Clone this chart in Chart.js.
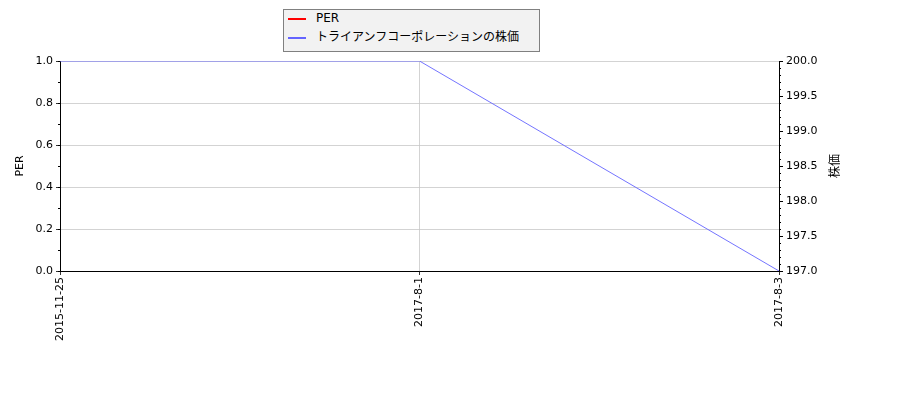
<!DOCTYPE html>
<html lang="ja">
<head>
  <meta charset="UTF-8">
  <title>トライアンフコーポレーションの株価</title>
  <script src="https://cdn.jsdelivr.net/npm/chart.js"></script>
  <style>
    body { margin: 0; background: #fff; }
    .wrap { position: relative; width: 900px; height: 400px; }
    #legend {
      position: absolute; left: 283px; top: 9px; width: 255px;
      background: #f2f2f2; border: 1px solid #808080;
      font: 12px "DejaVu Sans", "Noto Sans CJK JP", sans-serif; color: #000;
      padding: 0 0 3px 0;
    }
    #legend div { height: 19px; line-height: 17px; padding-left: 4px; white-space: nowrap; }
    #legend span.sw { display: inline-block; width: 18px; height: 2px; vertical-align: middle; margin-right: 10px; }
  </style>
</head>
<body>
  <div class="wrap">
    <canvas id="chart" width="900" height="400"></canvas>
    <div id="legend"></div>
  </div>
  <script>
    // data
    const dates = ['2015-11-25', '2017-8-1', '2017-8-3'];
    const perValues = [null, null, null];      // PER line has no points
    const priceValues = [200, 200, 197];
    const perTicks = [0, 0.2, 0.4, 0.6, 0.8, 1.0];
    const priceTicks = [197, 197.5, 198, 198.5, 199, 199.5, 200];

    const FONT = '"DejaVu Sans", "Noto Sans CJK JP", sans-serif';
    const perColor = '#ff0000';
    const priceColor = '#6464ff';

    // minor ticks + right axis title (rotated the matplotlib way)
    const extras = {
      id: 'extras',
      afterDraw(chart) {
        const ctx = chart.ctx;
        const area = chart.chartArea;
        ctx.save();
        ctx.strokeStyle = '#000';
        ctx.lineWidth = 1;
        const yl = chart.scales.y, yr = chart.scales.y2;
        for (let i = 0; i <= 10; i++) {
          const p = Math.round(yl.getPixelForValue(i / 10)) + 0.5;
          ctx.beginPath(); ctx.moveTo(area.left - 2, p); ctx.lineTo(area.left, p); ctx.stroke();
        }
        for (let i = 0; i <= 30; i++) {
          const p = Math.round(yr.getPixelForValue(197 + i / 10)) + 0.5;
          ctx.beginPath(); ctx.moveTo(area.right, p); ctx.lineTo(area.right + 2, p); ctx.stroke();
        }
        ctx.translate(836, (area.top + area.bottom) / 2);
        ctx.rotate(-Math.PI / 2);
        ctx.fillStyle = '#000';
        ctx.font = '12px ' + FONT;
        ctx.textAlign = 'center';
        ctx.textBaseline = 'middle';
        ctx.fillText('株価', 0, 0);
        ctx.restore();
      }
    };

    const chart = new Chart(document.getElementById('chart'), {
      type: 'line',
      data: {
        labels: dates,
        datasets: [
          { label: 'PER', data: perValues, borderColor: perColor, backgroundColor: perColor,
            borderWidth: 1.5, pointRadius: 0, yAxisID: 'y' },
          { label: 'トライアンフコーポレーションの株価', data: priceValues, borderColor: priceColor,
            backgroundColor: priceColor, borderWidth: 0.9, pointRadius: 0, yAxisID: 'y2' }
        ]
      },
      options: {
        responsive: false,
        animation: false,
        layout: { padding: { top: 61, left: 0, right: 0, bottom: 0 } },
        plugins: { legend: { display: false }, tooltip: { enabled: false } },
        scales: {
          x: {
            offset: false,
            grid: { color: '#c8c8c8', lineWidth: 0.8, tickColor: '#000', tickLength: 4 },
            border: { color: '#000', width: 1 },
            ticks: { color: '#000', font: { family: FONT, size: 11 }, minRotation: 90, maxRotation: 90, padding: 2 },
            afterFit(s) { s.height = 129; }
          },
          y: {
            position: 'left',
            min: 0, max: 1,
            afterBuildTicks(s) { s.ticks = perTicks.map(v => ({ value: v })); },
            grid: { color: '#c8c8c8', lineWidth: 0.8, tickColor: '#000', tickLength: 4 },
            border: { color: '#000', width: 1 },
            ticks: { color: '#000', font: { family: FONT, size: 11 }, padding: 3, callback: v => v.toFixed(1) },
            title: { display: true, text: 'PER', color: '#000', font: { family: FONT, size: 11 }, padding: { top: 14, bottom: 0 } },
            afterFit(s) { s.width = 60; }
          },
          y2: {
            position: 'right',
            min: 197, max: 200,
            afterBuildTicks(s) { s.ticks = priceTicks.map(v => ({ value: v })); },
            grid: { drawOnChartArea: false, tickColor: '#000', tickLength: 4 },
            border: { color: '#000', width: 1 },
            ticks: { color: '#000', font: { family: FONT, size: 11 }, padding: 3, callback: v => v.toFixed(1) },
            afterFit(s) { s.width = 121; }
          }
        }
      },
      plugins: [extras]
    });

    // legend box like the original, built from the datasets
    const legend = document.getElementById('legend');
    chart.data.datasets.forEach(ds => {
      const row = document.createElement('div');
      const sw = document.createElement('span');
      sw.className = 'sw';
      sw.style.background = ds.borderColor;
      row.appendChild(sw);
      row.appendChild(document.createTextNode(ds.label));
      legend.appendChild(row);
    });
  </script>
</body>
</html>
